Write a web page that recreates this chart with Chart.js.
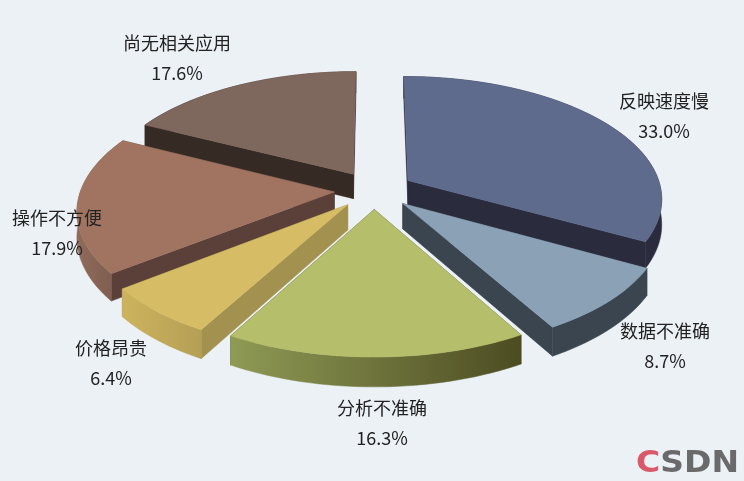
<!DOCTYPE html>
<html>
<head>
<meta charset="utf-8">
<style>
    html, body { margin: 0; padding: 0; background: #ecf1f6; overflow: hidden; }
    canvas { display: block; }
</style>
<script src="https://cdn.jsdelivr.net/npm/chart.js@4"></script>
</head>
<body>
<canvas id="pieChart" width="744" height="481"></canvas>
<script>
const categories = ['反映速度慢', '数据不准确', '分析不准确', '价格昂贵', '操作不方便', '尚无相关应用'];
const shares = [33.0, 8.7, 16.3, 6.4, 17.9, 17.6];

const topColors = ['#5f6b8c', '#8ba1b5', '#b5bf6b', '#d7bc66', '#a07460', '#7e675c'];
const edgeColors = ['#2a2c3e', '#3a4550', '#4c4c22', '#a3914f', '#5a4038', '#352a24'];
const wallLeft = ['#2a2c3e', '#3a4550', '#8f9a55', '#cdb35e', '#906b5b', '#352a24'];
const wallRight = ['#2a2c3e', '#3a4550', '#4c4c22', '#b49f55', '#7a5a4c', '#352a24'];

// centre of each two line label, in page pixels
const labelX = [664, 665, 382, 111, 57, 177];
const labelY = [101, 331, 408, 348, 218, 43];

// camera for the tilted pie
const view = {cx: 374, cy: 190, sx: 253.5, sy: 121, persp: 0.14, depth: 25};

function project(u, w) {
    const d = 1 + view.persp * w;
    return {
        x: view.cx + view.sx * u / d,
        y: view.cy - view.sy * w / d,
        drop: view.depth / d,
    };
}

function fillPoly(ctx, pts, fill) {
    ctx.beginPath();
    pts.forEach((p, i) => (i ? ctx.lineTo(p.x, p.y) : ctx.moveTo(p.x, p.y)));
    ctx.closePath();
    ctx.fillStyle = fill;
    ctx.fill();
    ctx.strokeStyle = fill;
    ctx.lineWidth = 0.5;
    ctx.stroke();
}

function lowered(p) {
    return {x: p.x, y: p.y + p.drop};
}

function sliceGeometry(arc) {
    const {startAngle, endAngle, outerRadius} = arc.getProps(['startAngle', 'endAngle', 'outerRadius'], true);
    const mid = (startAngle + endAngle) / 2;
    const e = arc.options.offset / outerRadius;
    const ou = e * Math.cos(mid);
    const ow = -e * Math.sin(mid);
    const steps = Math.ceil((endAngle - startAngle) / 0.03);
    const rim = [];
    for (let i = 0; i <= steps; i++) {
        const a = startAngle + (endAngle - startAngle) * i / steps;
        rim.push(project(ou + Math.cos(a), ow - Math.sin(a)));
    }
    return {apex: project(ou, ow), rim, backness: ow};
}

// pie elements come from the controller, this just paints them through the camera
const tiltedPie = {
    id: 'tiltedPie',
    beforeDatasetsDraw(chart) {
        const ctx = chart.ctx;
        const slices = chart.getDatasetMeta(0).data.map((arc, i) => ({i, ...sliceGeometry(arc)}));
        slices.sort((a, b) => b.backness - a.backness);
        slices.forEach(({i, apex, rim}) => {
            const first = rim[0];
            const last = rim[rim.length - 1];
            fillPoly(ctx, [apex, first, lowered(first), lowered(apex)], edgeColors[i]);
            fillPoly(ctx, [apex, last, lowered(last), lowered(apex)], edgeColors[i]);

            const xs = rim.map(p => p.x);
            const grad = ctx.createLinearGradient(Math.min(...xs), 0, Math.max(...xs), 0);
            grad.addColorStop(0, wallLeft[i]);
            grad.addColorStop(1, wallRight[i]);
            fillPoly(ctx, rim.concat(rim.map(lowered).reverse()), grad);

            fillPoly(ctx, [apex].concat(rim), topColors[i]);
        });
        return false;
    },
    afterDraw(chart) {
        const ctx = chart.ctx;
        ctx.save();
        ctx.font = '18px "Noto Sans CJK SC"';
        ctx.fillStyle = '#222';
        ctx.textAlign = 'center';
        ctx.textBaseline = 'middle';
        categories.forEach((name, i) => {
            ctx.fillText(name, labelX[i], labelY[i]);
            ctx.fillText(shares[i].toFixed(1) + '%', labelX[i], labelY[i] + 30.5);
        });
        // site watermark
        ctx.font = 'bold 30px "DejaVu Sans"';
        ctx.textAlign = 'left';
        ctx.textBaseline = 'alphabetic';
        ctx.translate(636, 472);
        ctx.scale(1.1, 1);
        ctx.fillStyle = '#d9596a';
        ctx.fillText('C', 0, 0);
        ctx.fillStyle = '#6a6a6a';
        ctx.fillText('SDN', ctx.measureText('C').width, 0);
        ctx.restore();
    },
};

new Chart(document.getElementById('pieChart'), {
    type: 'pie',
    data: {
        labels: categories,
        datasets: [{
            data: shares,
            backgroundColor: topColors,
            borderWidth: 0,
            offset: 35,
        }],
    },
    options: {
        responsive: false,
        animation: false,
        events: [],
        plugins: {
            legend: {display: false},
            tooltip: {enabled: false},
        },
    },
    plugins: [tiltedPie],
});
</script>
</body>
</html>
